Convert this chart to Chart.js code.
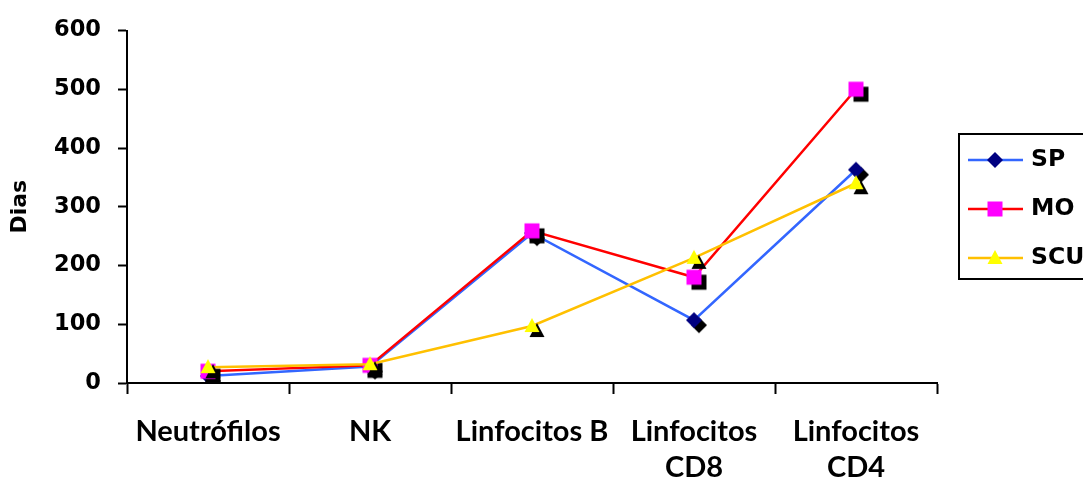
<!DOCTYPE html>
<html>
<head>
<meta charset="utf-8">
<script src="https://cdn.jsdelivr.net/npm/chart.js@4.4.1/dist/chart.umd.min.js"></script>
<style>
  html, body { margin: 0; padding: 0; background: #fff; }
  #wrap { width: 1083px; height: 486px; position: relative; }
</style>
</head>
<body>
<div id="wrap"><canvas id="c" width="1083" height="486"></canvas></div>
<script>
// Categories (cell types) and days per transplant source
const categories = [['Neutrófilos'], ['NK'], ['Linfocitos B'], ['Linfocitos', 'CD8'], ['Linfocitos', 'CD4']];
const spValues  = [12, 28, 255, 107, 363];
const moValues  = [20, 30, 259, 180, 500];
const scuValues = [27, 32, 97, 213, 340];
const seriesNames = ['SP', 'MO', 'SCU'];
const yTicks = [0, 100, 200, 300, 400, 500, 600];

const CAT_FONT = 'Lato, "Open Sans", sans-serif';
const AXIS_FONT = '"DejaVu Sans", "Open Sans", sans-serif';

// Marker drawing helpers
function shapePath(ctx, kind, cx, cy) {
  ctx.beginPath();
  if (kind === 'diamond') {
    const r = 8;
    ctx.moveTo(cx, cy - r); ctx.lineTo(cx + r, cy); ctx.lineTo(cx, cy + r); ctx.lineTo(cx - r, cy);
  } else if (kind === 'square') {
    const h = 7.5;
    ctx.rect(cx - h, cy - h, 2 * h, 2 * h);
  } else {
    const w = 7.5, hTop = 8, hBot = 6;
    ctx.moveTo(cx, cy - hTop); ctx.lineTo(cx + w, cy + hBot); ctx.lineTo(cx - w, cy + hBot);
  }
  ctx.closePath();
}
function drawMarker(ctx, kind, color, cx, cy) {
  shapePath(ctx, kind, cx, cy);
  ctx.fillStyle = color;
  ctx.fill();
}
// Marker image with a black drop shadow down and to the right
function markerImage(kind, color) {
  const off = 5, S = 2 * (10 + off);
  const cv = document.createElement('canvas');
  cv.width = S; cv.height = S;
  const ctx = cv.getContext('2d');
  drawMarker(ctx, kind, '#000000', S / 2 + off, S / 2 + off);
  drawMarker(ctx, kind, color, S / 2, S / 2);
  return cv;
}

const styles = [
  { line: '#3366FF', marker: '#000080', kind: 'diamond' },
  { line: '#FF0000', marker: '#FF00FF', kind: 'square' },
  { line: '#FFC000', marker: '#FFFF00', kind: 'triangle' }
];
const values = [spValues, moValues, scuValues];

const datasets = seriesNames.map((name, i) => ({
  label: name,
  data: values[i],
  borderColor: styles[i].line,
  borderWidth: 2.5,
  pointStyle: markerImage(styles[i].kind, styles[i].marker),
  pointRadius: 10,
  pointHoverRadius: 10,
  tension: 0,
  fill: false,
  order: 3 - i
}));

// Framed legend with a line segment and marker per series
const boxedLegend = {
  id: 'boxedLegend',
  afterDraw(chart) {
    const ctx = chart.ctx;
    ctx.save();
    ctx.strokeStyle = '#000';
    ctx.lineWidth = 2;
    ctx.strokeRect(959, 134, 140, 145);
    const rows = [160, 209, 258];
    seriesNames.forEach((name, i) => {
      const y = rows[i];
      ctx.strokeStyle = styles[i].line;
      ctx.lineWidth = 2.5;
      ctx.beginPath(); ctx.moveTo(968, y); ctx.lineTo(1023, y); ctx.stroke();
      drawMarker(ctx, styles[i].kind, styles[i].marker, 995, y);
      ctx.fillStyle = '#000';
      ctx.font = 'bold 23.5px ' + AXIS_FONT;
      ctx.textBaseline = 'middle';
      ctx.textAlign = 'left';
      ctx.fillText(name, 1031, y);
    });
    ctx.restore();
  }
};

new Chart(document.getElementById('c'), {
  type: 'line',
  data: { labels: categories, datasets },
  plugins: [boxedLegend],
  options: {
    responsive: false,
    animation: false,
    layout: { padding: { top: 30, right: 146, left: 0, bottom: 0 } },
    plugins: { legend: { display: false }, tooltip: { enabled: false } },
    scales: {
      x: {
        offset: true,
        grid: { offset: true, drawOnChartArea: false, drawTicks: true, tickLength: 11, tickColor: '#000', tickWidth: 2 },
        border: { color: '#000', width: 2 },
        ticks: { color: '#000', font: { family: CAT_FONT, size: 29, weight: 'bold', lineHeight: 1.24 }, padding: 20, maxRotation: 0, autoSkip: false },
        afterFit(scale) { scale.height = 103; }
      },
      y: {
        min: 0, max: 600,
        afterBuildTicks(scale) { scale.ticks = yTicks.map(v => ({ value: v })); },
        grid: { drawOnChartArea: false, drawTicks: true, tickLength: 9, tickColor: '#000', tickWidth: 2 },
        border: { color: '#000', width: 2 },
        ticks: { color: '#000', font: { family: AXIS_FONT, size: 22.5, weight: 'bold' }, padding: 17 },
        title: { display: true, text: 'Dias', color: '#000', font: { family: AXIS_FONT, size: 22, weight: 'bold' }, padding: { top: 7, bottom: 0 } },
        afterFit(scale) { scale.width = 127; }
      }
    }
  }
});
</script>
</body>
</html>
